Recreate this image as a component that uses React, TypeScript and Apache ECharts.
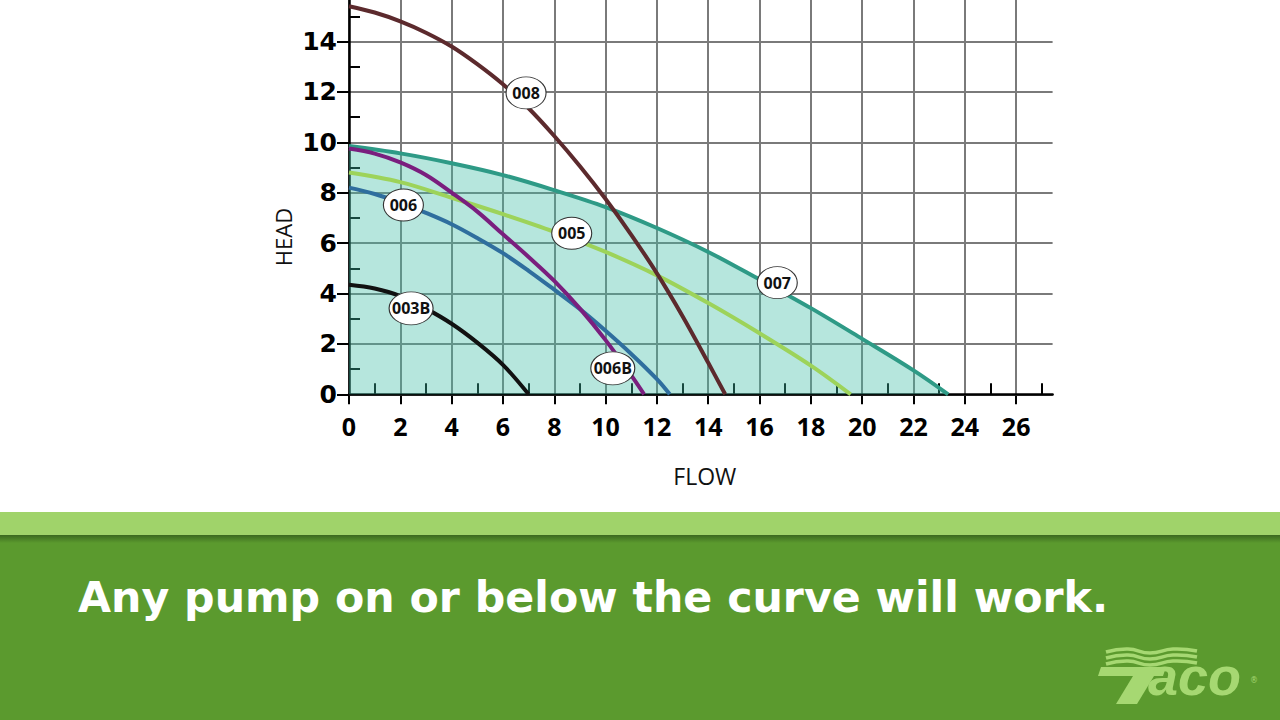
import { useEffect, useRef } from "react";
import * as echarts from "echarts";

// Pump curves: [flow, head]
const curve008: [number, number][] = [
  [0, 15.4], [1, 15.15], [2, 14.8], [3, 14.35], [4, 13.8], [5, 13.1], [6, 12.3], [7, 11.35],
  [8, 10.25], [9, 9.05], [10, 7.75], [11, 6.33], [12, 4.8], [13, 3.1], [14, 1.25], [14.66, 0],
];
const curve007: [number, number][] = [
  [0, 9.85], [2, 9.56], [4, 9.17], [6, 8.7], [8, 8.1], [10, 7.43], [12, 6.6], [14, 5.65],
  [16, 4.55], [18, 3.42], [20, 2.2], [22, 0.95], [23.35, 0],
];
const curve005: [number, number][] = [
  [0, 8.8], [2, 8.42], [4, 7.8], [6, 7.15], [8, 6.45], [10, 5.65], [12, 4.72], [14, 3.62],
  [16, 2.42], [18, 1.14], [19.55, 0],
];
const curve006B: [number, number][] = [
  [0, 9.75], [1, 9.55], [2, 9.2], [3, 8.7], [4, 8.0], [5, 7.25], [6, 6.35], [7, 5.45],
  [8, 4.5], [9, 3.4], [10, 2.15], [11, 0.75], [11.5, 0],
];
const curve006: [number, number][] = [
  [0, 8.2], [1, 7.95], [2, 7.6], [3, 7.2], [4, 6.75], [5, 6.2], [6, 5.6], [7, 4.9],
  [8, 4.15], [9, 3.38], [10, 2.52], [11, 1.6], [12, 0.6], [12.5, 0],
];
const curve003B: [number, number][] = [
  [0, 4.35], [1, 4.2], [2, 3.9], [3, 3.4], [4, 2.8], [5, 2.05], [6, 1.17], [7, 0],
];

// Curve tags
const tagNames = ["008", "006", "005", "007", "003B", "006B"];
const tagFlow = [6.9, 2.12, 8.68, 16.69, 2.42, 10.28];
const tagHead = [11.96, 7.51, 6.39, 4.43, 3.41, 1.03];

// Axis ranges
const flowMax = 27.42;
const flowLabelMax = 26;
const headMax = 16;
const step = 2;

const caption = "Any pump on or below the curve will work.";

const ELLIPSE = "path://M0,20A25,20 0 1,1 50,20A25,20 0 1,1 0,20Z";
const GRID_GRAY = "#7a7a7a";
const LOGO_GREEN = "#a6d872";

export default function App() {
  const ref = useRef<HTMLDivElement>(null);

  useEffect(() => {
    if (!ref.current) return;
    const chart = echarts.init(ref.current, undefined, { renderer: "svg" });

    const left = 349;
    const pxPerFlow = 25.66;
    const pxPerHead = 25.2;
    const axisY = 394.3;
    const plotH = headMax * pxPerHead;
    const top = axisY - plotH;

    const line = (name: string, data: [number, number][], color: string, extra: any = {}) => ({
      type: "line",
      name,
      data,
      xAxisIndex: 0,
      yAxisIndex: 0,
      symbol: "none",
      showSymbol: false,
      smooth: 0.35,
      silent: true,
      z: 3,
      lineStyle: { color, width: 4 },
      ...extra,
    });

    const wave = (y0: number) => ({
      type: "polyline",
      shape: {
        points: [
          [1106, y0 + 1], [1128, y0 - 2], [1150, y0 + 2], [1173, y0 - 2], [1197, y0],
        ],
        smooth: 0.5,
      },
      style: { stroke: LOGO_GREEN, lineWidth: 3.5, fill: null },
    });

    chart.setOption({
      animation: false,
      backgroundColor: "#ffffff",
      grid: [
        { left, top, width: flowMax * pxPerFlow, height: plotH, outerBoundsMode: "none", containLabel: false },
        { left, top, width: flowLabelMax * pxPerFlow, height: plotH, outerBoundsMode: "none", containLabel: false },
      ],
      xAxis: [
        {
          type: "value",
          gridIndex: 0,
          position: "bottom",
          min: 0,
          max: flowMax,
          interval: step,
          z: 2,
          axisLine: { show: true, lineStyle: { color: "#000", width: 2.5 } },
          axisTick: { show: false, inside: true },
          minorTick: { show: true, splitNumber: 2, length: 11, lineStyle: { color: "#000", width: 2 } },
          axisLabel: { show: false },
          splitLine: { show: false },
          minorSplitLine: { show: false },
          name: "FLOW",
          nameLocation: "middle",
          nameGap: 70,
          nameTextStyle: {
            color: "#111",
            fontFamily: "Open Sans",
            fontSize: 23,
            padding: [0, 0, 0, 8],
          },
        },
        {
          type: "value",
          gridIndex: 1,
          position: "bottom",
          min: 0,
          max: flowLabelMax,
          interval: step,
          z: 0,
          axisLine: { show: false },
          axisTick: { show: true, inside: false, length: 10, lineStyle: { color: "#000", width: 2 } },
          axisLabel: {
            show: true,
            margin: 19,
            color: "#000",
            fontFamily: "Open Sans",
            fontWeight: "bold",
            fontSize: 25,
          },
          splitLine: { show: true, lineStyle: { color: GRID_GRAY, width: 2 } },
        },
      ],
      yAxis: [
        {
          type: "value",
          gridIndex: 0,
          position: "left",
          offset: 0,
          min: 0,
          max: headMax,
          interval: step,
          z: 1,
          axisLine: { show: true, lineStyle: { color: "#000", width: 2.5 } },
          axisTick: { show: true, inside: false, length: 12, lineStyle: { color: "#000", width: 2 } },
          axisLabel: {
            show: true,
            margin: 12,
            color: "#000",
            fontFamily: "DejaVu Sans",
            fontWeight: "bold",
            fontSize: 25,
          },
          splitLine: { show: true, lineStyle: { color: GRID_GRAY, width: 2 } },
        },
        {
          type: "value",
          gridIndex: 0,
          position: "left",
          offset: 0,
          min: 0,
          max: headMax,
          interval: step,
          z: 1,
          axisLine: { show: false },
          axisTick: { show: false, inside: true },
          minorTick: { show: true, splitNumber: 2, length: 11, lineStyle: { color: "#000", width: 2 } },
          axisLabel: { show: false },
          splitLine: { show: false },
        },
        {
          type: "value",
          gridIndex: 1,
          min: 0,
          max: headMax,
          show: false,
        },
      ],
      series: [
        line("007", curve007, "#2e9a86", {
          areaStyle: { color: "rgba(64, 190, 165, 0.38)", opacity: 1 },
        }),
        line("005", curve005, "#9dd35a"),
        line("006", curve006, "#2f6e9e"),
        line("006B", curve006B, "#7a1e7e"),
        line("003B", curve003B, "#111111"),
        line("008", curve008, "#5c2a2d"),
        {
          type: "scatter",
          xAxisIndex: 0,
          yAxisIndex: 0,
          z: 5,
          silent: true,
          symbol: ELLIPSE,
          data: tagNames.map((n, i) => ({
            name: n,
            value: [tagFlow[i], tagHead[i]],
            symbolSize: n.length > 3 ? [44, 33] : [40, 32],
          })),
          itemStyle: { color: "#ffffff", borderColor: "#333", borderWidth: 1, opacity: 1 },
          label: {
            show: true,
            position: "inside",
            formatter: "{b}",
            color: "#111",
            fontFamily: "Open Sans",
            fontWeight: "bold",
            fontSize: 16,
          },
          emphasis: { disabled: true },
        },
      ],
      graphic: [
        {
          type: "text",
          x: 283,
          y: 237,
          rotation: Math.PI / 2,
          style: {
            text: "HEAD",
            fill: "#111",
            font: '22px "Open Sans"',
            align: "center",
            verticalAlign: "middle",
          },
        },
        { type: "rect", shape: { x: 0, y: 512, width: 1280, height: 24 }, style: { fill: "#a0d36a" } },
        { type: "rect", shape: { x: 0, y: 536, width: 1280, height: 184 }, style: { fill: "#5b9a2e" } },
        {
          type: "rect",
          shape: { x: 0, y: 535, width: 1280, height: 8 },
          style: {
            fill: new echarts.graphic.LinearGradient(0, 0, 0, 1, [
              { offset: 0, color: "#3b681f" },
              { offset: 1, color: "#5b9a2e" },
            ]),
          },
        },
        {
          type: "text",
          x: 78,
          y: 597,
          style: {
            text: caption,
            fill: "#ffffff",
            font: 'bold 42.7px "DejaVu Sans"',
            verticalAlign: "middle",
          },
        },
        wave(651),
        wave(657),
        wave(663),
        {
          type: "polygon",
          shape: { points: [[1101, 667], [1166, 667], [1163, 676], [1098, 676]] },
          style: { fill: LOGO_GREEN },
        },
        {
          type: "polygon",
          shape: { points: [[1133, 676], [1154, 676], [1137, 704], [1116, 704]] },
          style: { fill: LOGO_GREEN },
        },
        {
          type: "text",
          x: 1148,
          y: 703,
          style: {
            text: "aco",
            fill: LOGO_GREEN,
            font: 'italic bold 54px "Liberation Sans"',
            verticalAlign: "bottom",
          },
        },
        {
          type: "text",
          x: 1250,
          y: 676,
          style: { text: "®", fill: LOGO_GREEN, font: '8px "DejaVu Sans"' },
        },
      ],
    });

    return () => chart.dispose();
  }, []);

  return (
    <div
      ref={ref}
      style={{ position: "fixed", left: 0, top: 0, width: 1280, height: 720, background: "#fff" }}
    />
  );
}
